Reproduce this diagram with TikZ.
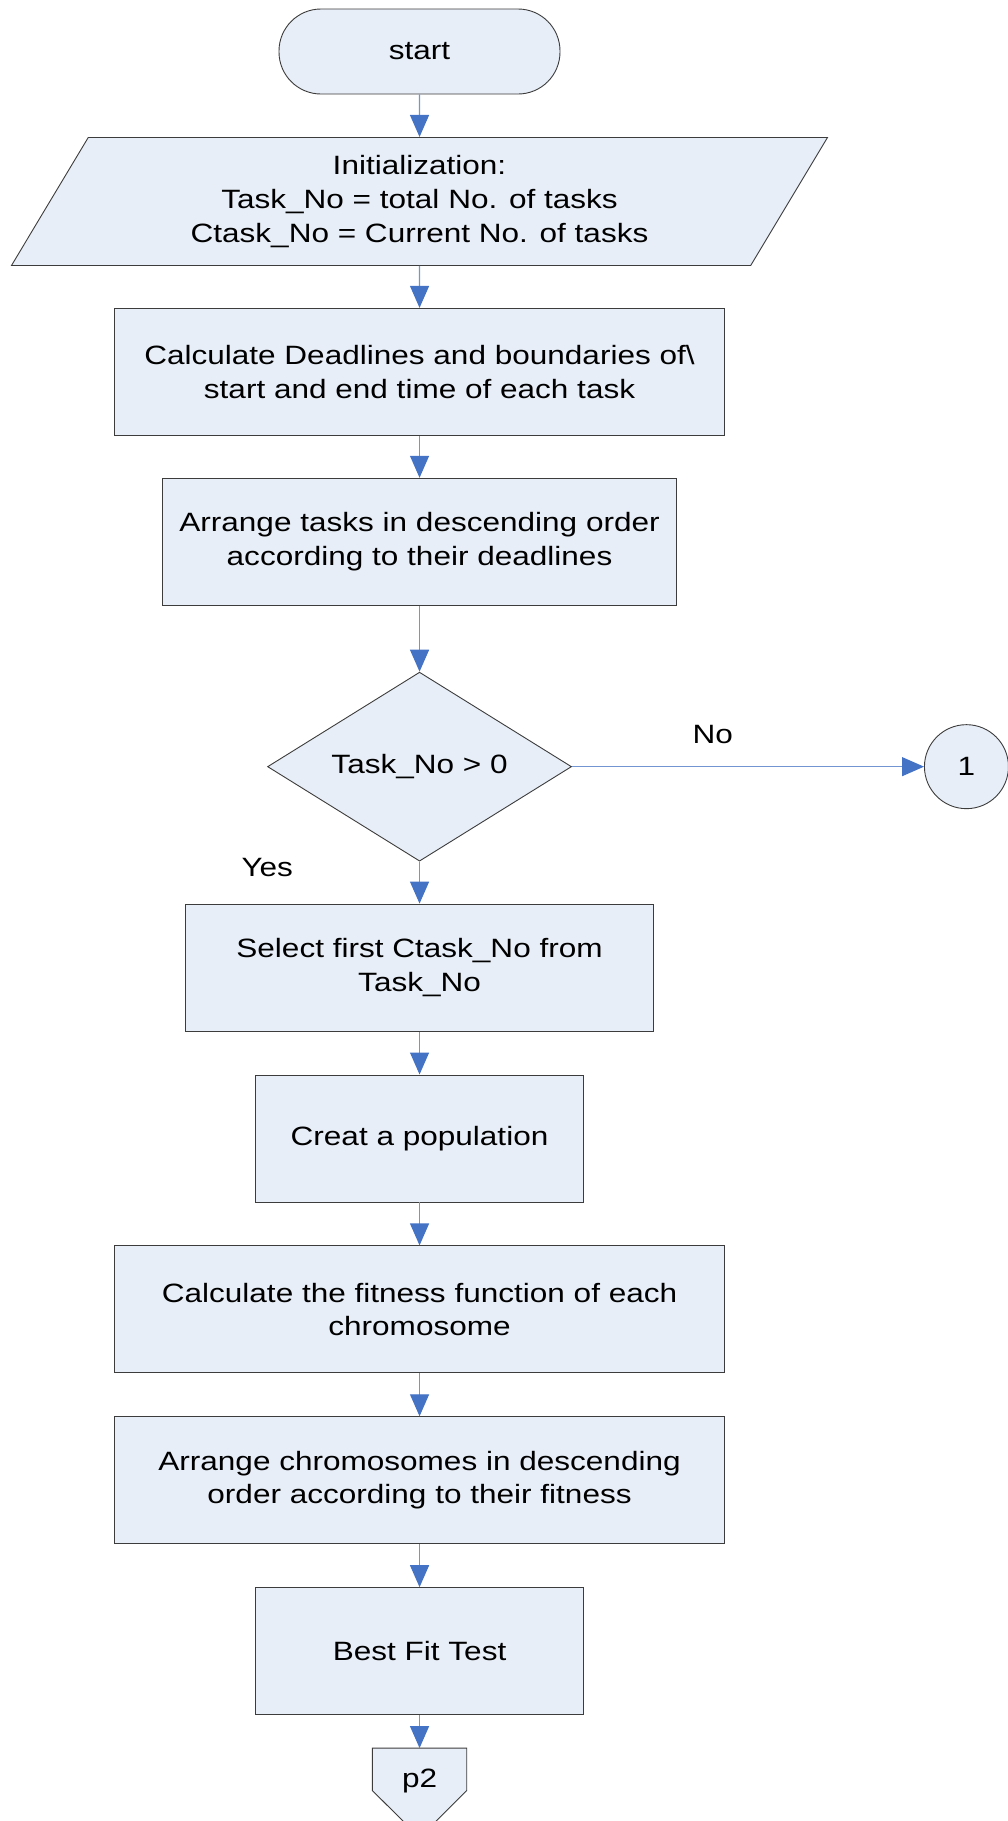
\documentclass[tikz,border=0pt]{standalone}
\usepackage{fontspec}
\setmainfont[FakeStretch=1.19]{Liberation Sans}
\usetikzlibrary{arrows.meta,positioning,shapes.geometric,backgrounds}
\definecolor{figdark}{RGB}{60,60,60}
\definecolor{figfill}{RGB}{232,238,247}
\definecolor{figstem}{RGB}{115,150,210}
\definecolor{figtip}{RGB}{68,114,196}
\tikzset{
  terminal/.style={
    rectangle, rounded corners=42pt, draw=figdark, fill=figfill,
    line width=0.9pt, minimum width=281pt, minimum height=85pt
  },
  io/.style={
    trapezium, trapezium left angle=61.3, trapezium right angle=118.7,
    trapezium stretches=true, draw=figdark, fill=figfill, line width=0.9pt,
    minimum width=820pt, minimum height=128pt, align=center
  },
  process/.style={
    rectangle, draw=figdark, fill=figfill, line width=0.9pt,
    minimum height=127pt, align=center
  },
  decision/.style={
    diamond, aspect=1.6, draw=figdark, fill=figfill, line width=0.9pt,
    minimum width=304pt, minimum height=189pt, inner sep=0pt
  },
  connector/.style={
    circle, draw=figdark, fill=figfill, line width=0.9pt,
    minimum size=84pt, inner sep=0pt
  },
  offpage/.style={
    rectangle, minimum width=94pt, minimum height=42pt,
    inner xsep=0pt, inner ysep=3pt, text height=36pt, text depth=0pt
  },
  arrow/.style={-{Triangle[length=22pt, width=19pt, color=figtip]},
    line width=1.2pt, draw=figstem},
  edgelabel/.style={inner sep=3pt}
}

\begin{document}
\begin{tikzpicture}[x=1pt, y=-1pt, font=\fontsize{26.5}{33.6}\selectfont]
  \useasboundingbox (0,0) rectangle (1008,1821);

  \node[terminal] (start) at (419.5,51.5) {start};
  \node[io] (init) at ([yshift=-107pt]start.south)
    {Initialization:\\ Task\_No = total No. of tasks\\ Ctask\_No = Current No. of tasks};
  \node[process, minimum width=610pt, below=42pt of init] (calc)
    {Calculate Deadlines and boundaries of\textbackslash\\ start and end time of each task};
  \node[process, minimum width=514pt, below=42pt of calc] (sort)
    {Arrange tasks in descending order\\ according to their deadlines};
  \node[decision, below=66pt of sort] (check) {Task\_No > 0};
  \node[connector, right=352pt of check] (goto) {1};
  \node[process, minimum width=468pt, below=42pt of check] (select)
    {Select first Ctask\_No from\\ Task\_No};
  \node[process, minimum width=328pt, below=43pt of select] (popul) {Creat a population};
  \node[process, minimum width=610pt, below=43pt of popul] (fitness)
    {Calculate the fitness function of each\\ chromosome};
  \node[process, minimum width=610pt, below=43pt of fitness] (rank)
    {Arrange chromosomes in descending\\ order according to their fitness};
  \node[process, minimum width=328pt, below=43pt of rank] (best) {Best Fit Test};
  \node[offpage, below=33pt of best] (ptwo) {p2};

  \begin{scope}[on background layer]
    \draw[draw=figdark, fill=figfill, line width=0.9pt]
      (ptwo.north west) -- (ptwo.north east) -- (ptwo.south east)
      -- ([yshift=-47pt]ptwo.south) -- (ptwo.south west) -- cycle;
  \end{scope}

  \draw[arrow] (start) -- (init);
  \draw[arrow] (init) -- (calc);
  \draw[arrow] (calc) -- (sort);
  \draw[arrow] (sort) -- (check);
  \draw[arrow] (check) -- node[edgelabel, pos=0.4, above=19pt] {No} (goto);
  \draw[arrow] (check) -- node[edgelabel, pos=0.14, left=123pt] {Yes} (select);
  \draw[arrow] (select) -- (popul);
  \draw[arrow] (popul) -- (fitness);
  \draw[arrow] (fitness) -- (rank);
  \draw[arrow] (rank) -- (best);
  \draw[arrow] (best) -- (ptwo);
\end{tikzpicture}
\end{document}
